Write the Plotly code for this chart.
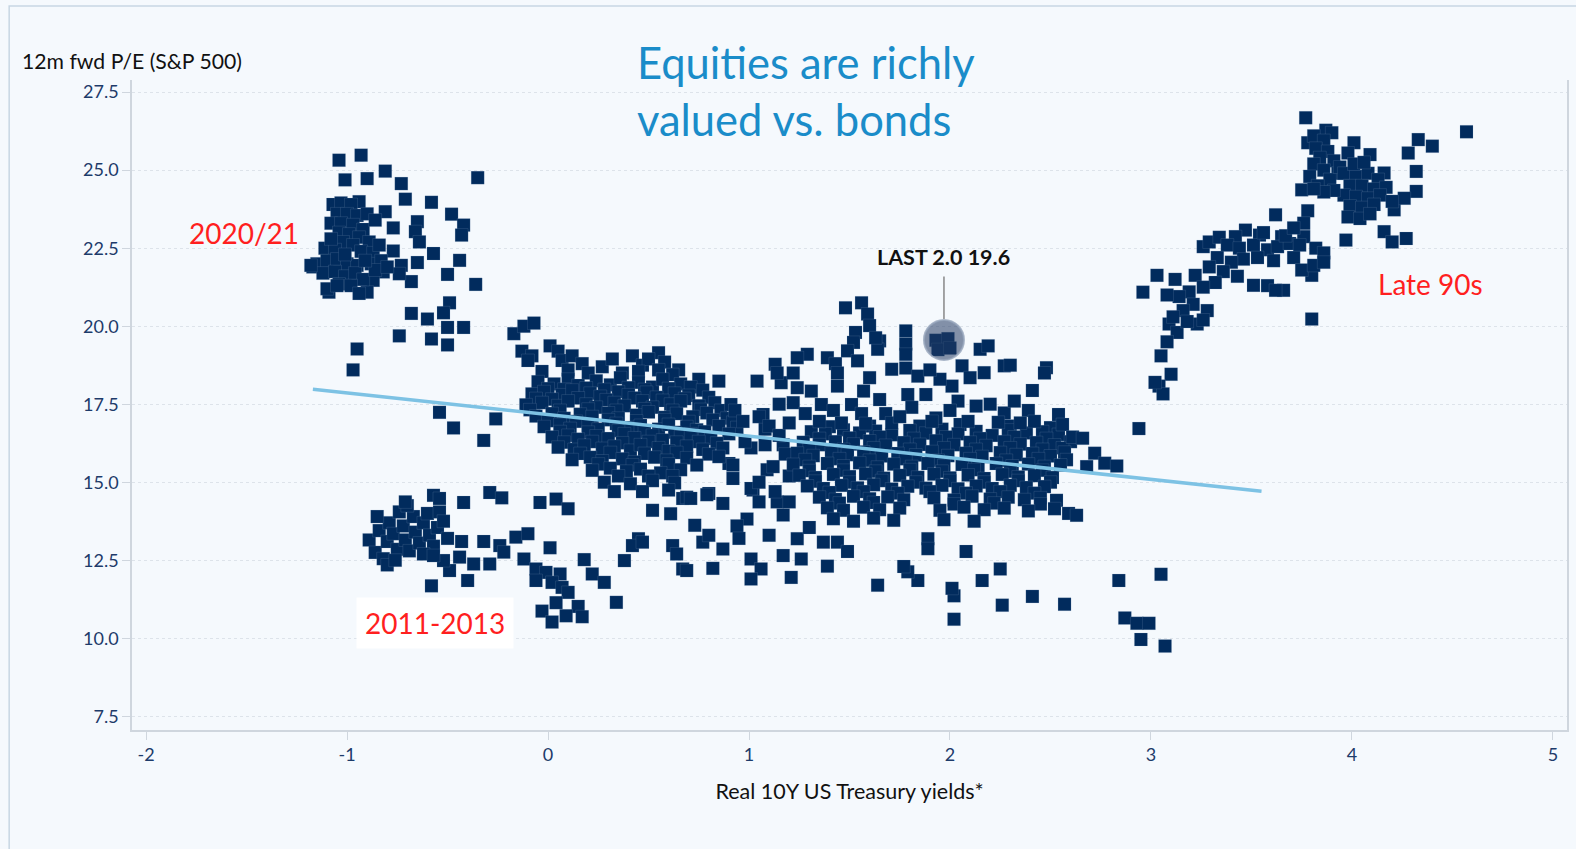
import plotly.graph_objects as go

# ---------------- data ----------------
# 2020/21 cluster (negative real yields, high P/E)
pts_2020 = [
    (-1.04, 25.32), (-0.93, 25.48), (-1.01, 24.69), (-0.90, 24.73), (-0.81, 24.97), (-0.73, 24.57),
    (-0.35, 24.76), (-0.71, 24.07), (-0.58, 23.97), (-0.94, 23.99), (-0.81, 23.67), (-0.77, 23.15),
    (-0.65, 23.35), (-0.66, 23.03), (-0.64, 22.70), (-0.48, 23.59), (-0.42, 23.24), (-0.43, 22.92),
    (-0.57, 22.33), (-0.65, 22.04), (-0.44, 22.11), (-0.50, 21.66), (-0.36, 21.34), (-0.77, 22.41),
    (-0.73, 21.95), (-0.68, 21.43), (-0.74, 21.68), (-0.82, 21.74), (-0.87, 21.47), (-0.90, 21.09),
    (-1.09, 21.09), (-1.17, 21.90), (-0.68, 20.41), (-0.60, 20.23), (-0.49, 20.75), (-0.52, 20.43),
    (-0.50, 19.96), (-0.42, 19.96), (-0.74, 19.69), (-0.58, 19.59), (-0.50, 19.40), (-0.95, 19.27),
    (-0.97, 18.60), (-1.07, 23.90), (-1.03, 23.95), (-0.98, 23.90), (-1.05, 23.60), (-1.00, 23.60),
    (-0.95, 23.55), (-1.08, 23.30), (-1.03, 23.30), (-0.97, 23.25), (-0.92, 23.10), (-1.04, 23.00),
    (-0.99, 22.95), (-0.94, 22.85), (-0.89, 22.70), (-1.02, 22.70), (-0.97, 22.60), (-1.11, 22.50),
    (-1.06, 22.45), (-0.93, 22.40), (-0.87, 22.35), (-1.15, 22.00), (-1.10, 22.10), (-1.05, 22.15),
    (-1.00, 22.00), (-0.95, 21.95), (-0.88, 22.00), (-0.83, 22.10), (-1.12, 21.70), (-1.06, 21.75),
    (-1.01, 21.60), (-0.96, 21.70), (-0.92, 21.50), (-1.04, 21.35), (-0.98, 21.30), (-0.94, 21.05),
    (-0.86, 21.80), (-0.80, 21.90), (-0.84, 22.60), (-0.90, 23.60), (-0.86, 23.40), (-1.18, 21.95),
    (-1.10, 21.20), (-1.05, 21.30), (-1.01, 22.30), (-0.91, 22.10), (-1.08, 22.80),
    (-0.54, 17.24), (-0.47, 16.74), (-0.32, 16.34), (-0.26, 17.03),
]

# 2011-2013 cluster (low P/E)
pts_2011 = [
    (-0.89, 13.15), (-0.86, 12.75), (-0.84, 13.45), (-0.82, 12.55), (-0.80, 13.10), (-0.79, 13.70),
    (-0.77, 13.35), (-0.75, 12.85), (-0.74, 14.05), (-0.72, 13.60), (-0.71, 13.15), (-0.69, 12.80),
    (-0.67, 13.90), (-0.66, 13.40), (-0.64, 13.05), (-0.62, 13.70), (-0.60, 14.00), (-0.59, 13.30),
    (-0.57, 12.95), (-0.55, 13.55), (-0.54, 14.05), (-0.52, 13.75), (-0.50, 13.20), (-0.70, 14.25),
    (-0.62, 12.70), (-0.80, 12.35), (-0.85, 13.90), (-0.76, 12.50), (-0.71, 14.37), (-0.57, 14.58),
    (-0.54, 14.48), (-0.42, 14.35), (-0.29, 14.67), (-0.23, 14.50), (-0.04, 14.35), (0.04, 14.46),
    (0.10, 14.15), (-0.43, 13.10), (-0.32, 13.10), (-0.24, 12.97), (-0.16, 13.24), (-0.10, 13.35),
    (0.01, 12.90), (-0.44, 12.60), (-0.37, 12.38), (-0.29, 12.38), (-0.49, 12.17), (-0.52, 12.49),
    (-0.57, 12.65), (-0.40, 11.85), (-0.58, 11.68), (-0.22, 12.76), (-0.12, 12.54), (-0.06, 12.22),
    (-0.01, 12.11), (0.06, 12.06), (-0.06, 11.85), (0.02, 11.79), (0.07, 11.63), (0.10, 11.47),
    (-0.03, 10.87), (0.04, 11.14), (0.15, 11.02), (0.17, 10.69), (0.09, 10.72), (0.02, 10.52),
    (0.18, 12.52), (0.22, 12.06), (0.28, 11.79), (0.34, 11.15), (0.38, 12.49), (0.45, 13.19),
    (0.42, 12.97), (0.47, 13.08), (0.52, 14.10), (0.61, 13.99), (0.62, 12.97), (0.64, 12.70),
    (0.67, 12.22), (0.67, 14.48),
]

# Centre-left cluster (real yields 0 to 1)
pts_mid_left = [
    (-0.17, 19.76), (-0.12, 20.00), (-0.07, 20.10), (-0.13, 19.20), (-0.08, 19.05), (0.01, 19.37),
    (0.05, 19.20), (0.07, 18.90), (0.12, 19.05), (0.17, 18.80), (0.27, 18.70), (0.42, 19.05),
    (0.47, 18.75), (0.55, 19.15), (0.58, 18.85), (0.65, 18.60), (0.75, 18.30), (0.85, 18.24),
    (0.32, 18.95), (0.50, 18.95), (0.37, 18.50), (-0.03, 18.55), (-0.07, 17.54),
    (0.10, 18.60), (0.20, 18.50), (0.45, 18.55), (0.55, 18.60), (0.62, 18.45), (-0.10, 18.90),
    (-0.05, 18.22), (0.03, 18.15), (0.10, 18.30), (0.15, 18.10), (0.24, 18.25), (0.31, 18.12),
    (0.36, 18.35), (0.45, 18.20), (0.52, 18.05), (0.57, 18.30), (0.66, 18.15),
    (0.00, 18.00), (0.08, 17.98), (0.19, 18.02), (0.28, 17.97), (0.40, 18.03), (0.48, 17.97),
    (0.60, 18.00), (0.71, 18.05),
    (-0.08, 17.83), (-0.02, 17.90), (0.07, 17.80), (0.12, 17.95), (0.21, 17.85), (0.26, 17.75),
    (0.35, 17.90), (0.40, 17.80), (0.49, 17.88), (0.54, 17.72), (0.63, 17.85), (0.70, 17.78), (0.77, 17.95),
    (-0.06, 17.68), (0.02, 17.66), (0.15, 17.70), (0.29, 17.64), (0.43, 17.70), (0.57, 17.62),
    (0.68, 17.68), (0.80, 17.72),
    (-0.11, 17.48), (-0.03, 17.55), (0.05, 17.45), (0.10, 17.60), (0.19, 17.50), (0.24, 17.40),
    (0.33, 17.55), (0.38, 17.45), (0.47, 17.60), (0.52, 17.40), (0.61, 17.50), (0.66, 17.60),
    (0.75, 17.45), (0.83, 17.55),
    (-0.09, 17.32), (0.06, 17.30), (0.20, 17.34), (0.34, 17.30), (0.48, 17.35), (0.62, 17.30),
    (0.76, 17.33), (0.86, 17.30),
    (-0.06, 17.12), (0.02, 17.20), (0.08, 17.05), (0.16, 17.18), (0.22, 17.10), (0.30, 17.22),
    (0.35, 17.05), (0.44, 17.15), (0.50, 17.25), (0.58, 17.08), (0.64, 17.20), (0.72, 17.10),
    (0.79, 17.22), (0.89, 17.05),
    (0.00, 16.97), (0.14, 16.95), (0.30, 17.00), (0.44, 16.96), (0.58, 17.00), (0.70, 16.94),
    (0.82, 17.00), (0.92, 16.92),
    (-0.02, 16.78), (0.06, 16.85), (0.11, 16.72), (0.20, 16.82), (0.25, 16.70), (0.34, 16.88),
    (0.41, 16.75), (0.46, 16.82), (0.55, 16.70), (0.60, 16.85), (0.69, 16.78), (0.74, 16.68),
    (0.85, 16.80), (0.94, 16.75),
    (0.06, 16.62), (0.20, 16.60), (0.35, 16.65), (0.48, 16.62), (0.63, 16.60), (0.78, 16.62),
    (0.90, 16.55),
    (0.02, 16.45), (0.10, 16.50), (0.15, 16.38), (0.24, 16.48), (0.30, 16.40), (0.38, 16.55),
    (0.43, 16.42), (0.52, 16.50), (0.57, 16.35), (0.66, 16.45), (0.71, 16.55), (0.81, 16.40),
    (0.08, 16.28), (0.22, 16.30), (0.37, 16.26), (0.50, 16.30), (0.64, 16.28), (0.75, 16.30),
    (0.84, 16.25),
    (0.05, 16.12), (0.13, 16.05), (0.18, 16.18), (0.27, 16.08), (0.33, 16.15), (0.41, 16.02),
    (0.46, 16.20), (0.55, 16.10), (0.60, 16.00), (0.69, 16.15), (0.77, 16.05), (0.87, 16.10),
    (0.16, 15.92), (0.31, 15.95), (0.48, 15.92), (0.64, 15.95), (0.80, 15.90),
    (0.12, 15.72), (0.21, 15.80), (0.27, 15.68), (0.37, 15.75), (0.43, 15.65), (0.53, 15.80),
    (0.59, 15.70), (0.69, 15.78),
    (0.25, 15.58), (0.42, 15.55), (0.60, 15.58), (0.74, 15.55),
    (0.22, 15.38), (0.31, 15.45), (0.39, 15.35), (0.46, 15.42), (0.56, 15.30), (0.66, 15.40),
    (0.35, 15.20), (0.50, 15.20), (0.62, 15.20),
    (0.28, 15.00), (0.41, 14.95), (0.52, 15.05), (0.63, 14.98), (0.33, 14.70), (0.47, 14.70),
    (0.60, 14.75),
    (0.91, 17.49), (0.93, 17.30), (1.07, 17.17), (1.08, 16.70), (1.01, 16.10), (1.09, 15.40),
    (1.02, 14.75), (0.90, 15.60), (0.92, 15.12), (0.80, 14.64), (0.69, 14.52), (1.17, 16.20),
    (0.71, 14.48), (0.79, 14.60), (0.87, 14.32), (0.73, 13.62), (1.01, 14.80), (1.05, 14.37),
    (1.14, 14.37), (1.20, 14.37), (1.17, 13.95), (0.99, 13.82), (0.94, 13.60),
    (0.77, 13.08), (0.87, 12.86), (1.01, 12.54), (1.06, 12.22), (1.17, 12.65), (1.24, 13.19),
    (1.26, 12.54), (1.37, 13.08), (1.44, 13.08), (0.82, 12.24), (0.69, 12.17), (0.80, 13.30),
    (0.95, 13.20), (1.10, 13.30), (1.30, 13.55),
    (1.05, 17.10), (1.10, 16.80), (1.15, 16.50), (1.20, 16.90), (1.08, 16.20), (1.18, 15.90),
    (1.12, 15.50), (1.20, 15.20), (1.22, 17.55), (1.15, 17.50), (1.05, 15.00), (1.13, 14.70),
    (0.85, 15.82), (0.92, 15.55), (0.97, 16.95), (0.98, 16.30),
]

# Centre-right cluster (real yields 1.2 to 2.7)
pts_mid_right = [
    (1.40, 16.78), (1.60, 16.80), (1.85, 16.80), (2.05, 16.85), (2.30, 16.80), (2.50, 16.75),
    (1.31, 16.62), (1.38, 16.55), (1.47, 16.68), (1.55, 16.58), (1.63, 16.64), (1.71, 16.52),
    (1.80, 16.66), (1.88, 16.57), (1.96, 16.70), (2.04, 16.55), (2.13, 16.63), (2.21, 16.50),
    (2.29, 16.67), (2.38, 16.58), (2.46, 16.62), (2.54, 16.53),
    (1.35, 16.40), (1.50, 16.42), (1.65, 16.45), (1.82, 16.40), (1.98, 16.45), (2.15, 16.40),
    (2.32, 16.45), (2.48, 16.40),
    (1.27, 16.28), (1.35, 16.20), (1.43, 16.30), (1.52, 16.22), (1.60, 16.32), (1.68, 16.18),
    (1.77, 16.27), (1.85, 16.21), (1.93, 16.33), (2.02, 16.20), (2.10, 16.28), (2.18, 16.17),
    (2.27, 16.30), (2.35, 16.22), (2.43, 16.27), (2.52, 16.19), (2.60, 16.30),
    (1.30, 16.08), (1.47, 16.05), (1.62, 16.10), (1.80, 16.05), (1.97, 16.10), (2.13, 16.05),
    (2.30, 16.10), (2.46, 16.05), (2.56, 16.10),
    (1.24, 15.93), (1.32, 15.85), (1.41, 15.95), (1.49, 15.88), (1.57, 15.97), (1.66, 15.84),
    (1.74, 15.92), (1.83, 15.87), (1.91, 15.98), (1.99, 15.85), (2.08, 15.93), (2.16, 15.82),
    (2.25, 15.95), (2.33, 15.88), (2.41, 15.92), (2.50, 15.84), (2.57, 15.96),
    (1.28, 15.72), (1.45, 15.75), (1.60, 15.70), (1.78, 15.75), (1.94, 15.70), (2.10, 15.75),
    (2.28, 15.70), (2.44, 15.75), (2.58, 15.72),
    (1.22, 15.57), (1.30, 15.50), (1.39, 15.60), (1.47, 15.52), (1.55, 15.62), (1.64, 15.48),
    (1.72, 15.58), (1.81, 15.50), (1.89, 15.60), (1.97, 15.53), (2.06, 15.57), (2.14, 15.47),
    (2.23, 15.60), (2.31, 15.52), (2.39, 15.58), (2.47, 15.50), (2.55, 15.55),
    (1.30, 15.37), (1.47, 15.38), (1.63, 15.35), (1.80, 15.40), (1.96, 15.35), (2.12, 15.40),
    (2.30, 15.35), (2.46, 15.38),
    (1.25, 15.22), (1.33, 15.15), (1.42, 15.25), (1.50, 15.18), (1.58, 15.27), (1.67, 15.13),
    (1.75, 15.22), (1.84, 15.16), (1.92, 15.26), (2.00, 15.14), (2.09, 15.23), (2.17, 15.12),
    (2.26, 15.25), (2.34, 15.17), (2.42, 15.21), (2.51, 15.15),
    (1.33, 15.03), (1.50, 15.00), (1.66, 15.05), (1.83, 15.00), (2.00, 15.05), (2.17, 15.00),
    (2.34, 15.05), (2.50, 15.00),
    (1.29, 14.88), (1.37, 14.80), (1.46, 14.90), (1.54, 14.82), (1.62, 14.92), (1.71, 14.78),
    (1.79, 14.87), (1.88, 14.81), (1.96, 14.90), (2.04, 14.79), (2.13, 14.88), (2.21, 14.80),
    (2.30, 14.90), (2.38, 14.83), (2.47, 14.86),
    (1.40, 14.67), (1.57, 14.70), (1.74, 14.65), (1.90, 14.70), (2.08, 14.65), (2.25, 14.70),
    (2.42, 14.65),
    (1.35, 14.52), (1.43, 14.45), (1.52, 14.55), (1.60, 14.47), (1.69, 14.53), (1.77, 14.44),
    (1.92, 14.50), (2.02, 14.43), (2.11, 14.55), (2.20, 14.46), (2.29, 14.52), (2.37, 14.44),
    (2.45, 14.50), (2.53, 14.42),
    (1.45, 14.33), (1.62, 14.35), (2.02, 14.30), (2.22, 14.33), (2.45, 14.30),
    (1.39, 14.18), (1.47, 14.10), (1.57, 14.20), (1.65, 14.12), (1.75, 14.17), (1.95, 14.10),
    (2.07, 14.20), (2.17, 14.12), (2.27, 14.17), (2.39, 14.08), (2.52, 14.15), (2.59, 14.00),
    (1.42, 13.83), (1.52, 13.75), (1.62, 13.85), (1.72, 13.78), (1.97, 13.80), (2.12, 13.75),
    (1.16, 18.19), (1.24, 18.03), (1.31, 17.92), (1.36, 17.49), (1.42, 17.30), (1.44, 18.08),
    (1.51, 17.49), (1.57, 17.92), (1.56, 17.20), (1.65, 17.65), (1.68, 17.20), (1.58, 16.88),
    (1.71, 16.90), (1.79, 17.81), (1.81, 17.40), (1.88, 17.81), (1.93, 17.06), (1.91, 16.95),
    (2.01, 18.08), (2.04, 17.60), (2.13, 17.44), (2.20, 17.50), (2.09, 16.95), (2.27, 17.22),
    (2.41, 17.94), (2.39, 17.30), (2.35, 16.90), (2.42, 16.95), (2.54, 17.17), (2.56, 16.85),
    (2.61, 16.45), (1.35, 16.95), (1.46, 16.90), (2.24, 16.92), (2.00, 17.30), (2.32, 17.60),
    (1.75, 17.10), (1.28, 17.20),
    (1.48, 20.59), (1.56, 20.75), (1.59, 20.39), (1.60, 20.02), (1.53, 19.80), (1.52, 19.48),
    (1.49, 19.21), (1.54, 18.89), (1.65, 19.53), (1.64, 19.26), (1.78, 19.85), (1.78, 19.43),
    (1.78, 19.10), (2.06, 18.73), (2.15, 19.26), (2.19, 19.37), (2.27, 18.73), (2.30, 18.75),
    (2.17, 18.51), (2.48, 18.67), (2.47, 18.50), (1.29, 19.10), (1.24, 18.99), (1.13, 18.78),
    (1.14, 18.50), (1.22, 18.50), (1.39, 18.99), (1.43, 18.80), (1.44, 18.50), (1.71, 18.62),
    (1.78, 18.66), (1.84, 18.40), (1.04, 18.24), (1.60, 18.35), (1.95, 18.30), (2.10, 18.35),
    (1.90, 18.60), (1.63, 19.63),
    (1.93, 19.55), (1.99, 19.60), (1.94, 19.25), (2.00, 19.30),
    (2.08, 12.78), (2.25, 12.22), (2.16, 11.85), (2.26, 11.06), (2.41, 11.34), (2.57, 11.09),
    (2.02, 10.61), (2.02, 11.36), (2.01, 11.60), (1.84, 11.85), (1.79, 12.13), (1.77, 12.30),
    (1.64, 11.70), (1.89, 13.19), (1.89, 12.87), (1.39, 12.31), (1.49, 12.78), (1.21, 11.95),
    (1.01, 11.90), (2.63, 13.94), (2.66, 16.41), (2.72, 15.93), (2.68, 15.50), (2.77, 15.61),
    (2.83, 15.52), (2.94, 16.72), (2.84, 11.85), (3.05, 12.05), (2.87, 10.65), (2.93, 10.48),
    (2.99, 10.48), (2.95, 9.96), (3.07, 9.75),
]

# Late 90s cluster (high real yields, high P/E)
pts_late90s = [
    (3.77, 26.68), (3.87, 26.28), (3.90, 26.20), (4.57, 26.23), (4.33, 25.98), (4.40, 25.77),
    (4.28, 25.55), (4.01, 25.88), (4.09, 25.50), (3.78, 25.88), (3.98, 25.55), (4.32, 24.96),
    (4.16, 24.91), (4.32, 24.32), (4.21, 23.73), (4.26, 24.10), (3.75, 24.37), (3.78, 23.70),
    (3.62, 23.57), (3.97, 22.76), (4.16, 23.03), (4.20, 22.70), (4.27, 22.81), (3.80, 20.23),
    (3.76, 22.87), (3.80, 21.63), (3.66, 21.15), (3.65, 22.87), (3.54, 22.92), (3.47, 23.08),
    (3.51, 21.31), (3.42, 22.87), (3.26, 22.55), (3.22, 21.63), (3.23, 20.07), (3.03, 21.63),
    (2.96, 21.09), (3.09, 20.07), (3.05, 19.05), (3.10, 18.46), (3.04, 18.08), (3.06, 17.83),
    (3.02, 18.20),
    (3.81, 26.10), (3.86, 25.95), (3.82, 25.70), (3.88, 25.60), (3.84, 25.40), (3.91, 25.30),
    (3.81, 25.20), (3.86, 25.00), (3.93, 24.90), (3.79, 24.80), (3.89, 24.70), (3.94, 25.10),
    (3.83, 24.50),
    (3.96, 24.90), (4.02, 24.80), (4.08, 24.90), (4.13, 24.70), (3.99, 24.50), (4.05, 24.50),
    (4.11, 24.40), (4.17, 24.45), (3.96, 24.20), (4.02, 24.15), (4.08, 24.10), (4.14, 24.20),
    (3.99, 23.85), (4.05, 23.80), (4.11, 23.90), (3.98, 23.50), (4.04, 23.45), (4.09, 23.60),
    (3.91, 24.35), (3.86, 24.30), (3.81, 24.40), (4.01, 25.20), (4.06, 25.25), (4.20, 24.00),
    (3.29, 22.70), (3.34, 22.85), (3.38, 22.60), (3.44, 22.50), (3.51, 22.60), (3.58, 22.45),
    (3.63, 22.55), (3.69, 22.65), (3.74, 22.60), (3.82, 22.50), (3.86, 22.35), (3.71, 22.20),
    (3.61, 22.10), (3.53, 22.20), (3.46, 22.15), (3.40, 22.05), (3.33, 22.20), (3.29, 21.90),
    (3.36, 21.75), (3.43, 21.60), (3.32, 21.40), (3.26, 21.25), (3.19, 21.10), (3.14, 20.95),
    (3.21, 20.70), (3.28, 20.50), (3.16, 20.50), (3.11, 20.30), (3.13, 19.80), (3.08, 19.50),
    (3.18, 20.15), (3.26, 20.20), (3.08, 21.00), (3.12, 21.50), (3.58, 21.30), (3.62, 21.15),
    (3.75, 21.80), (3.81, 21.95), (3.86, 22.05), (3.67, 22.90), (3.76, 23.30), (3.71, 23.15),
    (3.56, 23.00),
]

# Regression (trend) line end points
trend_x = [-1.17, 3.55]
trend_y = [17.98, 14.71]

# Latest observation
last_x = [1.97]
last_y = [19.56]
last_label = "LAST 2.0 19.6"

# Axis ticks
x_ticks = [-2, -1, 0, 1, 2, 3, 4, 5]
y_ticks = [7.5, 10.0, 12.5, 15.0, 17.5, 20.0, 22.5, 25.0, 27.5]
y_ticklabels = ["7.5", "10.0", "12.5", "15.0", "17.5", "20.0", "22.5", "25.0", "27.5"]

title_lines = ["Equities are richly", "valued vs. bonds"]
y_title = "12m fwd P/E (S&P 500)"
x_title = "Real 10Y US Treasury yields*"
region_labels = [("2020/21", -1.515, 22.99), ("Late 90s", 4.39, 21.36), ("2011-2013", -0.56, 10.5)]

# ---------------- figure ----------------
all_pts = pts_2020 + pts_2011 + pts_mid_left + pts_mid_right + pts_late90s
xs = [p[0] for p in all_pts]
ys = [p[1] for p in all_pts]

FONT = "Lato, 'Source Sans Pro', 'Open Sans', sans-serif"
NAVY = "#012b5d"
BG = "#f5f9fd"

fig = go.Figure()
fig.add_trace(go.Scatter(
    x=xs, y=ys, mode="markers",
    marker=dict(symbol="square", size=13, color=NAVY,
                line=dict(width=0.4, color="rgba(150,172,198,0.45)")),
    hoverinfo="x+y", showlegend=False))

fig.add_trace(go.Scatter(
    x=trend_x, y=trend_y, mode="lines",
    line=dict(color="#7dc2e4", width=3.5), hoverinfo="skip", showlegend=False))

fig.add_trace(go.Scatter(
    x=last_x, y=last_y, mode="markers",
    marker=dict(symbol="circle", size=40, color="rgba(35,58,98,0.55)",
                line=dict(width=2, color="rgba(150,165,188,0.8)")),
    hoverinfo="skip", showlegend=False))

annotations = []
# Title
annotations.append(dict(
    xref="paper", yref="paper", x=(636 - 132) / 1437, y=1, yshift=46,
    xanchor="left", yanchor="top", align="left", showarrow=False,
    text="<br>".join(title_lines),
    font=dict(family=FONT, size=43.5, color="#1a8cc9")))
# y-axis title
annotations.append(dict(
    xref="paper", yref="paper", x=0, xshift=-112, y=1, yshift=19,
    xanchor="left", yanchor="middle", showarrow=False,
    text=y_title, font=dict(family=FONT, size=21.2, color="#111111")))
# region labels
for txt, lx, ly in region_labels:
    a = dict(x=lx, y=ly, xref="x", yref="y", showarrow=False, text=txt,
             font=dict(family=FONT, size=28, color="#ff1f1f"))
    if txt == "2011-2013":
        a.update(bgcolor="#ffffff", borderpad=8)
    annotations.append(a)
# LAST label with leader line
annotations.append(dict(
    x=last_x[0], y=last_y[0], xref="x", yref="y", text="<b>%s</b>" % last_label,
    showarrow=True, arrowhead=0, arrowwidth=1.5, arrowcolor="#888888",
    ax=0, ay=-83, standoff=21, borderpad=6,
    font=dict(family=FONT, size=21.5, color="#111111")))

fig.update_layout(
    width=1576, height=849,
    margin=dict(l=132, r=7, t=80, b=119),
    paper_bgcolor=BG, plot_bgcolor=BG,
    font=dict(family=FONT),
    annotations=annotations,
    shapes=[dict(type="rect", xref="paper", yref="paper",
                 x0=(9 - 132) / 1437, x1=1.2, y0=-0.5, y1=(730 - 6) / 650,
                 line=dict(color="#c7d6e3", width=1.5), fillcolor="rgba(0,0,0,0)",
                 layer="below")],
)
fig.update_xaxes(
    range=[-2.07, 5.07], tickvals=x_ticks, ticktext=[str(t) for t in x_ticks],
    showgrid=False, zeroline=False, showline=True, linecolor="#cfd6de", linewidth=1.5,
    ticks="outside", ticklen=8, tickcolor="#cfd6de",
    tickfont=dict(family=FONT, size=18, color="#1d3b6a"),
    title=dict(text=x_title, standoff=20, font=dict(family=FONT, size=21.5, color="#111111")))
fig.update_yaxes(
    range=[7.06, 27.89], tickvals=y_ticks, ticktext=y_ticklabels,
    showgrid=True, gridcolor="#dde3ea", griddash="dot", gridwidth=1,
    zeroline=False, showline=True, mirror=True, linecolor="#cfd6de", linewidth=1.5,
    ticks="outside", ticklen=8, tickcolor="#cfd6de",
    tickfont=dict(family=FONT, size=18, color="#1d3b6a"))

fig.write_html("out.html", config={"displayModeBar": False},
               post_script="document.body.style.margin='0';document.body.style.background='%s';" % BG)
